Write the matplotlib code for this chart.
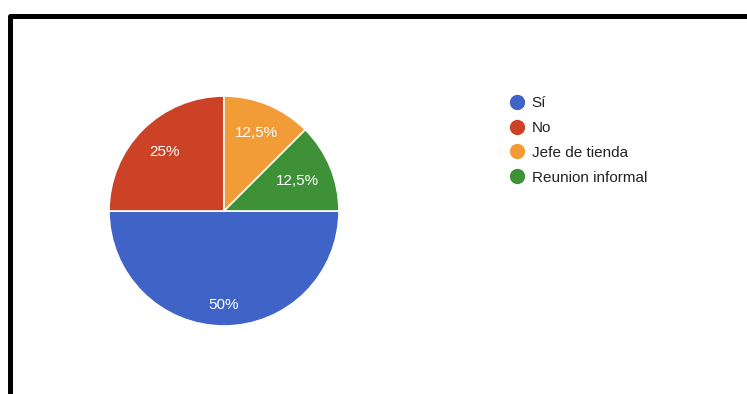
import numpy as np
import matplotlib.pyplot as plt
from matplotlib.lines import Line2D

labels = ["Sí", "No", "Jefe de tienda", "Reunion informal"]
values = [50, 25, 12.5, 12.5]
colors = ["#3f63c6", "#cc4227", "#f29c37", "#3e9136"]

W, H = 747, 394
fig = plt.figure(figsize=(W / 100, H / 100), dpi=100)
plt.rcParams['font.family'] = ['Liberation Sans', 'DejaVu Sans']

# pie centred at (224, 211) px, radius 115 px
cx, cy, r = 224, 211, 115
ax = fig.add_axes([(cx - r) / W, (H - cy - r) / H, 2 * r / W, 2 * r / H])

def fmt(p):
    s = f"{p:.1f}".rstrip("0").rstrip(".")
    return s.replace(".", ",") + "%"

wedges, texts, autotexts = ax.pie(
    values, colors=colors, startangle=0, counterclock=False,
    autopct=fmt, pctdistance=0.72,
    wedgeprops=dict(edgecolor="white", linewidth=1.2),
    textprops=dict(color="white", fontsize=11))
ax.set_xlim(-1, 1)
ax.set_ylim(-1, 1)

# label radius per wedge (google-style placement)
label_r = [0.82, 0.73, 0.73, 0.69]
for w, t, lr in zip(wedges, autotexts, label_r):
    mid = np.deg2rad((w.theta1 + w.theta2) / 2)
    t.set_position((lr * np.cos(mid), lr * np.sin(mid)))

handles = [Line2D([], [], marker="o", linestyle="", markersize=10,
                  markerfacecolor=c, markeredgecolor=c) for c in colors]
fig.legend(handles, labels, loc="upper left",
           bbox_to_anchor=(502 / W, 1 - 90 / H), frameon=False,
           fontsize=11, handletextpad=0.35, labelspacing=0.71,
           handlelength=1.2, labelcolor="#222222", borderaxespad=0)

# black frame on left and top edges
frame = Line2D([10 / W, 10 / W, 1.0], [0, 1 - 15.5 / H, 1 - 15.5 / H],
               transform=fig.transFigure, color="black", linewidth=3.6,
               solid_joinstyle="round", solid_capstyle="butt")
fig.add_artist(frame)

fig.savefig("out.png", dpi=100)
